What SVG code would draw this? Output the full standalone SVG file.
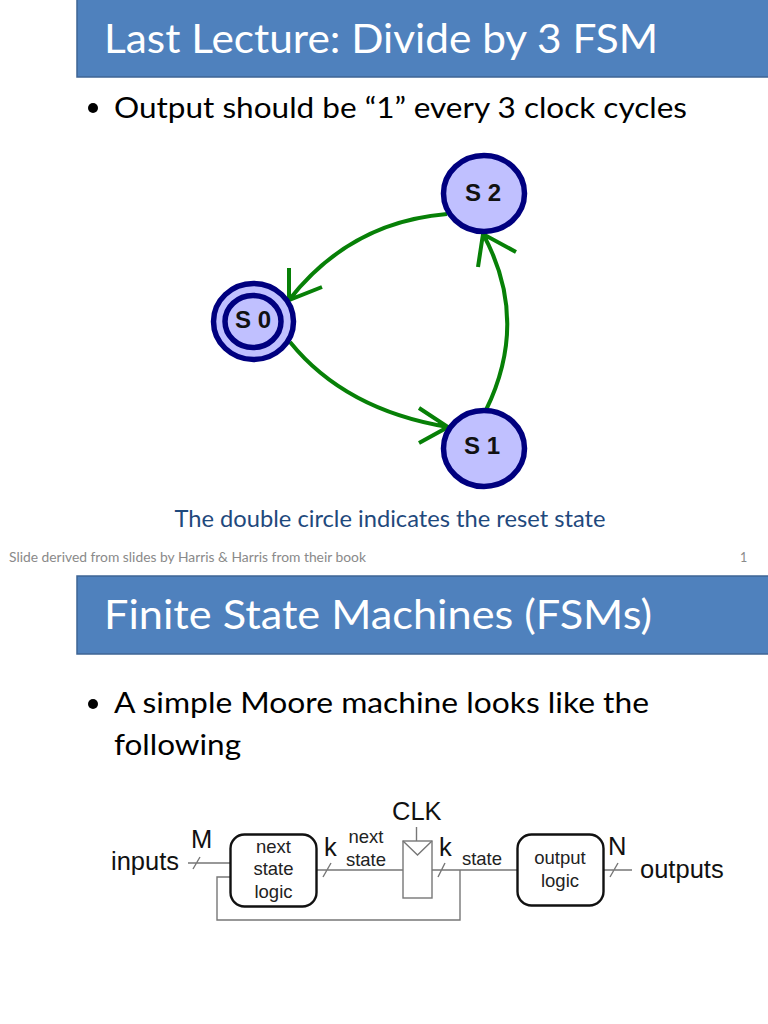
<svg xmlns="http://www.w3.org/2000/svg" width="768" height="1024" viewBox="0 0 768 1024">
<style>
text{font-family:"Lato","Open Sans","Liberation Sans",sans-serif}
.hd{fill:#4f81bd;stroke:#3e6494;stroke-width:1.5}
.title{fill:#fff;font-size:40px}
.body{fill:#000;font-size:29px}
.st{fill:#c0c0ff;stroke:#00007f;stroke-width:5.5}
.sl{font-family:"Liberation Sans",Arial,sans-serif;font-weight:bold;font-size:24px;fill:#111;text-anchor:middle}
.arc{fill:none;stroke:#078007;stroke-width:4}
.w{fill:none;stroke:#777;stroke-width:1.4}
.blk{fill:#fff;stroke:#111;stroke-width:2.4}
.lg{font-family:"Liberation Sans",Arial,sans-serif;font-size:25.5px;fill:#111}
.sm{font-family:"Liberation Sans",Arial,sans-serif;font-size:18.5px;fill:#222;text-anchor:middle}
</style>
<rect width="768" height="1024" fill="#fff"/>
<g id="slide1-header"><rect class="hd" x="77" y="-2" width="693" height="79"/><text class="title" x="104" y="53" textLength="554" lengthAdjust="spacingAndGlyphs">Last Lecture: Divide by 3 FSM</text></g>
<g id="slide1-bullet"><circle cx="93" cy="108" r="5"/><text class="body" x="114" y="118" textLength="573" lengthAdjust="spacingAndGlyphs">Output should be “1” every 3 clock cycles</text></g>
<g id="connectors-fsm" class="arc">
<path d="M447 214Q350 222 289 300M289 268V300L322 287"/>
<path d="M486 410Q530 320 483 234M478 267L483 234L516 252"/>
<path d="M290 342Q345 410 448 427M419 408L448 427L419 443"/>
</g>
<g id="S0"><ellipse class="st" cx="253.500" cy="321.500" rx="40" ry="38"/><ellipse class="st" cx="253" cy="321.500" rx="28" ry="26"/><text class="sl" x="253" y="328">S 0</text></g>
<g id="S1"><ellipse class="st" cx="484" cy="448.500" rx="40.500" ry="38"/><text class="sl" x="482" y="454">S 1</text></g>
<g id="S2"><ellipse class="st" cx="484" cy="193.500" rx="40.500" ry="38"/><text class="sl" x="483" y="201">S 2</text></g>
<text x="390" y="527" text-anchor="middle" font-size="22.5" fill="#1f497d" textLength="431" lengthAdjust="spacingAndGlyphs">The double circle indicates the reset state</text>
<text x="9" y="562" font-size="12.5" fill="#8a8a8a" textLength="357" lengthAdjust="spacingAndGlyphs">Slide derived from slides by Harris &amp; Harris from their book</text>
<text x="740" y="562" font-size="12.5" fill="#8a8a8a">1</text>
<g id="slide2-header"><rect class="hd" x="77" y="576" width="693" height="78"/><text class="title" x="104" y="629" textLength="548" lengthAdjust="spacingAndGlyphs">Finite State Machines (FSMs)</text></g>
<g id="slide2-bullet"><circle cx="93" cy="704" r="5"/><text class="body" x="114" y="713" textLength="535" lengthAdjust="spacingAndGlyphs">A simple Moore machine looks like the</text><text class="body" x="114" y="755" textLength="127" lengthAdjust="spacingAndGlyphs">following</text></g>
<g id="connectors-moore" class="w">
<path d="M188 863H230M193 869L200 857"/>
<path d="M230 877H217V920H460V870"/>
<path d="M317 870H403M323 877L331 863"/>
<path d="M416.500 827V841"/>
<path d="M432 870H517M438 877L445 863"/>
<path d="M603 870H632M610 877L618 863"/>
</g>
<g id="next-state-logic"><rect class="blk" x="230.500" y="834.500" width="86" height="72" rx="14"/><text class="sm" x="273.500" y="853">next</text><text class="sm" x="273.500" y="875">state</text><text class="sm" x="273.500" y="898">logic</text></g>
<g id="register"><rect x="403" y="841" width="29" height="57" fill="#fff" stroke="#777" stroke-width="1.400"/><path class="w" d="M403 841L417.500 855L432 841"/></g>
<g id="output-logic"><rect class="blk" x="517.500" y="834.500" width="86" height="71" rx="14"/><text class="sm" x="560" y="864">output</text><text class="sm" x="560" y="887">logic</text></g>
<g id="labels">
<text class="lg" x="111" y="870">inputs</text>
<text class="lg" x="191" y="848">M</text>
<text class="lg" x="324" y="856">k</text>
<text class="sm" x="366" y="843">next</text>
<text class="sm" x="366" y="866">state</text>
<text class="lg" x="392" y="820">CLK</text>
<text class="lg" x="439" y="856">k</text>
<text class="sm" x="482" y="865">state</text>
<text class="lg" x="608" y="855">N</text>
<text class="lg" x="640" y="878">outputs</text>
</g>
</svg>
